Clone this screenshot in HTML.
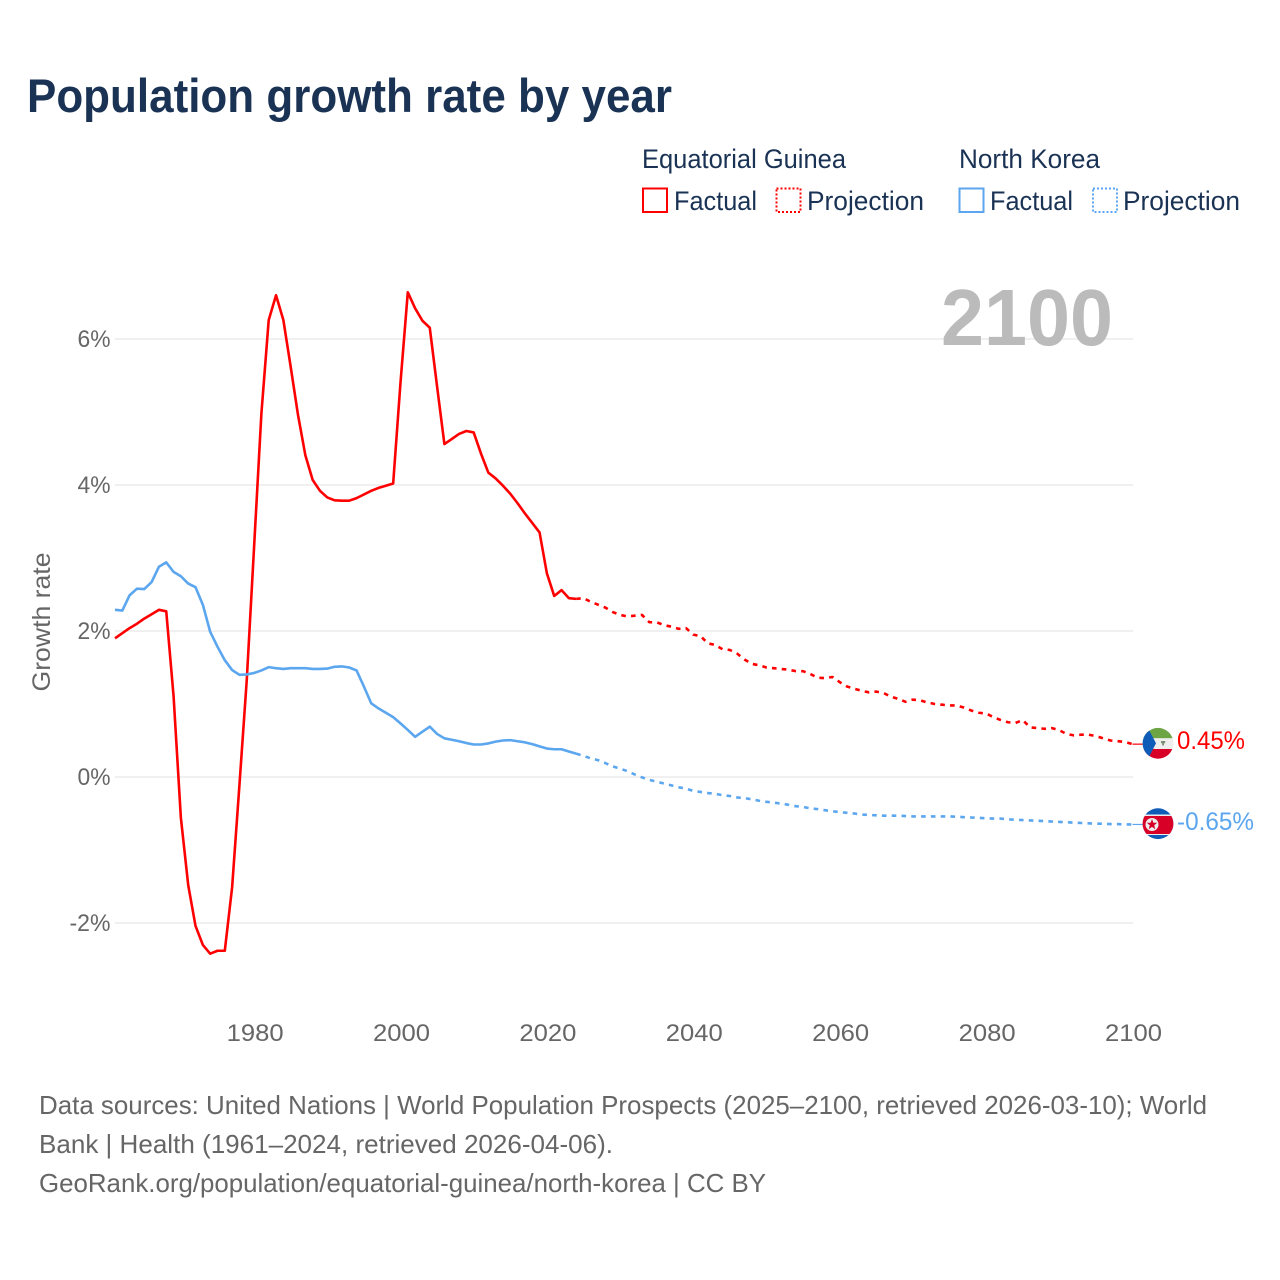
<!DOCTYPE html>
<html lang="en">
<head>
<meta charset="utf-8">
<title>Population growth rate by year</title>
<style>
  html, body { margin: 0; padding: 0; background: #fff; }
  svg { display: block; font-family: "Liberation Sans", "DejaVu Sans", sans-serif; }
  .title { font-size: 47px; font-weight: 700; fill: #1a3354; }
  .legend { font-size: 26.5px; fill: #1a3354; }
  .tick { font-size: 24px; fill: #666; }
  .foot { font-size: 26px; fill: #666; }
</style>
</head>
<body>
<svg id="chart" xmlns="http://www.w3.org/2000/svg" width="1280" height="1280" viewBox="0 0 1280 1280">
  <rect width="1280" height="1280" fill="#fff"/>
  <text class="title" x="27" y="112" textLength="645" lengthAdjust="spacingAndGlyphs">Population growth rate by year</text>

  <g>
    <text class="legend" x="642" y="168" textLength="204" lengthAdjust="spacingAndGlyphs">Equatorial Guinea</text>
    <text class="legend" x="959" y="168" textLength="141" lengthAdjust="spacingAndGlyphs">North Korea</text>
    <g>
      <rect x="643" y="188.5" width="24" height="23.5" fill="none" stroke="#ff0000" stroke-width="2"/>
      <text class="legend" x="674" y="210" textLength="83" lengthAdjust="spacingAndGlyphs">Factual</text>
    </g>
    <g>
      <rect x="776.5" y="188.5" width="24" height="23.5" fill="none" stroke="#ff0000" stroke-width="2" stroke-dasharray="2 2"/>
      <text class="legend" x="807" y="210" textLength="117" lengthAdjust="spacingAndGlyphs">Projection</text>
    </g>
    <g>
      <rect x="959.5" y="188.5" width="24" height="23.5" fill="none" stroke="#5ba6ee" stroke-width="2"/>
      <text class="legend" x="990" y="210" textLength="83" lengthAdjust="spacingAndGlyphs">Factual</text>
    </g>
    <g>
      <rect x="1093" y="188.5" width="24" height="23.5" fill="none" stroke="#5ba6ee" stroke-width="2" stroke-dasharray="2 2"/>
      <text class="legend" x="1123" y="210" textLength="117" lengthAdjust="spacingAndGlyphs">Projection</text>
    </g>
  </g>

  <g id="grid"></g>
  <g id="yticks"></g>
  <g id="xticks"></g>
  <text class="tick" transform="translate(50,622) rotate(-90)" text-anchor="middle" style="font-size:25px" textLength="139" lengthAdjust="spacingAndGlyphs">Growth rate</text>

  <text x="941" y="345" font-size="80" font-weight="700" fill="#bbbbbb" textLength="172" lengthAdjust="spacingAndGlyphs">2100</text>

  <g id="series"></g>

  <defs>
    <clipPath id="clip-eg"><circle cx="1158" cy="743.3" r="15.4"/></clipPath>
    <clipPath id="clip-nk"><circle cx="1158" cy="823.7" r="15.4"/></clipPath>
  </defs>

  <g id="flag-eg" clip-path="url(#clip-eg)">
    <rect x="1142" y="727" width="32" height="11.3" fill="#6da544"/>
    <rect x="1142" y="738.3" width="32" height="10.7" fill="#eeeeee"/>
    <rect x="1142" y="749" width="32" height="11" fill="#d80027"/>
    <polygon points="1142,727 1142,760 1147.5,760 1156,743.3 1147.5,727" fill="#0f5bb8"/>
    <rect x="1162.2" y="741" width="1.8" height="4.5" fill="#7d8f72"/>
    <rect x="1161" y="741" width="4.2" height="2.2" fill="#7d8f72"/>
  </g>
  <g id="flag-nk" clip-path="url(#clip-nk)">
    <rect x="1142" y="807" width="32" height="33" fill="#0f5bb8"/>
    <rect x="1142" y="814.5" width="32" height="20.5" fill="#eeeeee"/>
    <rect x="1142" y="816" width="32" height="18" fill="#d80027"/>
    <circle cx="1152" cy="824.5" r="6.5" fill="#eeeeee"/>
    <polygon points="1152,819 1153.4,822.8 1157.3,822.8 1154.2,825.3 1155.3,829.2 1152,826.9 1148.7,829.2 1149.8,825.3 1146.7,822.8 1150.6,822.8" fill="#d80027"/>
  </g>

  <text id="label-eg" x="1177" y="749" font-size="25" fill="#ff0000" textLength="68" lengthAdjust="spacingAndGlyphs"></text>
  <text id="label-nk" x="1177" y="830" font-size="25" fill="#5ba6ee" textLength="77" lengthAdjust="spacingAndGlyphs"></text>

  <g>
    <text class="foot" x="39" y="1114" textLength="1168" lengthAdjust="spacingAndGlyphs">Data sources: United Nations | World Population Prospects (2025–2100, retrieved 2026-03-10); World</text>
    <text class="foot" x="39" y="1153" textLength="574" lengthAdjust="spacingAndGlyphs">Bank | Health (1961–2024, retrieved 2026-04-06).</text>
    <text class="foot" x="39" y="1192" textLength="727" lengthAdjust="spacingAndGlyphs">GeoRank.org/population/equatorial-guinea/north-korea | CC BY</text>
  </g>
</svg>

<script>
const xTickYears = [1980, 2000, 2020, 2040, 2060, 2080, 2100];
const yTickValues = [6, 4, 2, 0, -2];
const yTickLabels = ["6%", "4%", "2%", "0%", "-2%"];

const factualStartYear = 1961;
const projectionStartYear = 2024;

const egFactual = [
  1.90, 1.97, 2.04, 2.10, 2.17, 2.23, 2.29, 2.27, 1.11, -0.56,
  -1.48, -2.04, -2.30, -2.42, -2.38, -2.38, -1.51, -0.11, 1.33, 3.15,
  4.98, 6.26, 6.60, 6.26, 5.62, 4.96, 4.41, 4.07, 3.92, 3.83,
  3.79, 3.785, 3.785, 3.82, 3.87, 3.92, 3.96, 3.99, 4.02, 5.40,
  6.64, 6.42, 6.25, 6.155, 5.35, 4.56, 4.63, 4.70, 4.74, 4.72,
  4.43, 4.17, 4.09, 3.99, 3.88, 3.75, 3.61, 3.48, 3.35, 2.79,
  2.48, 2.56, 2.45, 2.44
];

const egProjection = [
  2.44, 2.45, 2.40, 2.36, 2.32, 2.26, 2.22, 2.20, 2.21, 2.22,
  2.12, 2.12, 2.08, 2.06, 2.03, 2.04, 1.95, 1.93, 1.83, 1.81,
  1.75, 1.74, 1.69, 1.61, 1.55, 1.53, 1.50, 1.49, 1.48, 1.47,
  1.45, 1.45, 1.41, 1.36, 1.355, 1.37, 1.30, 1.24, 1.21, 1.18,
  1.16, 1.17, 1.15, 1.10, 1.07, 1.03, 1.06, 1.05, 1.02, 1.00,
  0.99, 0.98, 0.98, 0.95, 0.91, 0.88, 0.87, 0.82, 0.78, 0.75,
  0.74, 0.78, 0.68, 0.67, 0.66, 0.67, 0.64, 0.59, 0.57, 0.58,
  0.58, 0.56, 0.53, 0.50, 0.49, 0.48, 0.45
];

const nkFactual = [
  2.29, 2.28, 2.49, 2.58, 2.575, 2.67, 2.88, 2.94, 2.81, 2.75,
  2.65, 2.60, 2.36, 1.99, 1.785, 1.60, 1.465, 1.40, 1.405, 1.425,
  1.46, 1.505, 1.49, 1.48, 1.49, 1.49, 1.49, 1.48, 1.48, 1.485,
  1.51, 1.515, 1.50, 1.46, 1.24, 1.01, 0.94, 0.88, 0.82, 0.735,
  0.645, 0.55, 0.62, 0.69, 0.59, 0.53, 0.51, 0.49, 0.465, 0.445,
  0.445, 0.46, 0.485, 0.50, 0.505, 0.49, 0.475, 0.45, 0.42, 0.39,
  0.38, 0.38, 0.35, 0.32
];

const nkProjection = [
  0.32, 0.29, 0.255, 0.23, 0.19, 0.145, 0.115, 0.08, 0.035, -0.005,
  -0.04, -0.065, -0.09, -0.115, -0.14, -0.16, -0.19, -0.205, -0.22, -0.23,
  -0.25, -0.26, -0.28, -0.29, -0.305, -0.325, -0.34, -0.35, -0.365, -0.38,
  -0.40, -0.41, -0.43, -0.44, -0.455, -0.47, -0.48, -0.49, -0.50, -0.515,
  -0.52, -0.525, -0.53, -0.53, -0.53, -0.535, -0.54, -0.54, -0.54, -0.54,
  -0.54, -0.54, -0.545, -0.55, -0.555, -0.56, -0.565, -0.57, -0.57, -0.58,
  -0.585, -0.59, -0.595, -0.60, -0.605, -0.61, -0.615, -0.62, -0.625, -0.63,
  -0.635, -0.64, -0.64, -0.645, -0.645, -0.65, -0.65
];

const egEndLabel = "0.45%";
const nkEndLabel = "-0.65%";

const SVG_NS = "http://www.w3.org/2000/svg";
function xScale(year) { return 115 + (year - 1961) * 7.32; }
function yScale(value) { return 777 - value * 73; }

function linePath(values, startYear) {
  return values.map(function (v, i) {
    return (i ? "L" : "M") + xScale(startYear + i).toFixed(2) + " " + yScale(v).toFixed(2);
  }).join(" ");
}

const gridGroup = document.getElementById("grid");
const yTickGroup = document.getElementById("yticks");
yTickValues.forEach(function (v, i) {
  const line = document.createElementNS(SVG_NS, "line");
  
  
  line.setAttribute("x1", 115);
  line.setAttribute("x2", 1133);
  line.setAttribute("y1", yScale(v));
  line.setAttribute("y2", yScale(v));
  line.setAttribute("stroke", "#ececec");
  line.setAttribute("stroke-width", "1.5");
  gridGroup.appendChild(line);

  const label = document.createElementNS(SVG_NS, "text");
  
  
  label.setAttribute("class", "tick");
  label.setAttribute("x", 110.5);
  label.setAttribute("y", yScale(v) + 8);
  label.setAttribute("text-anchor", "end");
  label.setAttribute("textLength", v < 0 ? "41" : "33");
  label.setAttribute("lengthAdjust", "spacingAndGlyphs");
  label.textContent = yTickLabels[i];
  yTickGroup.appendChild(label);
});

const xTickGroup = document.getElementById("xticks");
xTickYears.forEach(function (year) {
  const label = document.createElementNS(SVG_NS, "text");
  
  
  label.setAttribute("class", "tick");
  label.setAttribute("x", xScale(year) - 28 + 0.5);
  label.setAttribute("y", 1041);
  label.setAttribute("textLength", "57");
  label.setAttribute("lengthAdjust", "spacingAndGlyphs");
  label.textContent = String(year);
  xTickGroup.appendChild(label);
});

const seriesGroup = document.getElementById("series");
function addSeries(name, values, startYear, color, dashed) {
  const path = document.createElementNS(SVG_NS, "path");
  
  
  path.setAttribute("d", linePath(values, startYear));
  path.setAttribute("fill", "none");
  path.setAttribute("stroke", color);
  path.setAttribute("stroke-width", "2.6");
  path.setAttribute("stroke-linejoin", "round");
  if (dashed) { path.setAttribute("stroke-dasharray", "4.6 5.2"); }
  seriesGroup.appendChild(path);
}
addSeries("equatorial-guinea-factual-line", egFactual, factualStartYear, "#ff0000", false);
addSeries("equatorial-guinea-projection-line", egProjection, projectionStartYear, "#ff0000", true);
addSeries("north-korea-factual-line", nkFactual, factualStartYear, "#5ba6ee", false);
addSeries("north-korea-projection-line", nkProjection, projectionStartYear, "#5ba6ee", true);

function addConnector(name, value, color) {
  const line = document.createElementNS(SVG_NS, "line");
  
  
  line.setAttribute("x1", xScale(2100));
  line.setAttribute("x2", 1143);
  line.setAttribute("y1", yScale(value));
  line.setAttribute("y2", yScale(value));
  line.setAttribute("stroke", color);
  line.setAttribute("stroke-width", "1.2");
  seriesGroup.appendChild(line);
}
addConnector("equatorial-guinea-end-connector", egProjection[egProjection.length - 1], "#ff0000");
addConnector("north-korea-end-connector", nkProjection[nkProjection.length - 1], "#5ba6ee");

document.getElementById("label-eg").textContent = egEndLabel;
document.getElementById("label-nk").textContent = nkEndLabel;
</script>
</body>
</html>
